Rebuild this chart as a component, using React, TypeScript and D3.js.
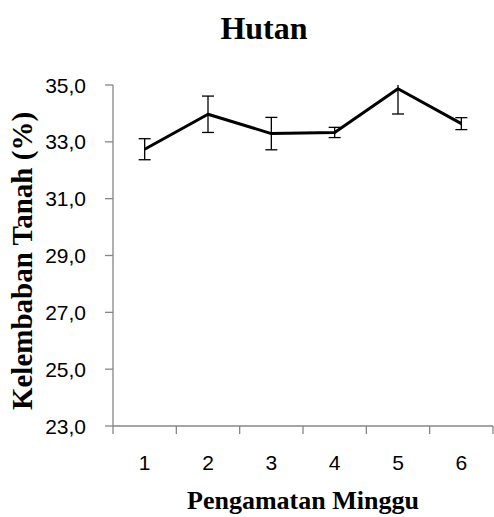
import React from "react";
import * as d3 from "d3";

const weeks = ["1", "2", "3", "4", "5", "6"];
const moisture = [32.74, 33.97, 33.29, 33.33, 34.87, 33.64];
const errors = [0.37, 0.64, 0.57, 0.18, 0.89, 0.21];
const yTicks = [23, 25, 27, 29, 31, 33, 35];

const W = 494;
const H = 517;
const left = 113;
const right = 493;
const top = 85;
const bottom = 426;

export default function App() {
  const x = d3.scaleBand<string>().domain(weeks).range([left, right]).padding(0);
  const y = d3.scaleLinear().domain([23, 35]).range([bottom, top]);
  const cx = (w: string) => (x(w) as number) + x.bandwidth() / 2;
  const line = d3
    .line<number>()
    .x((_, i) => cx(weeks[i]))
    .y((d) => y(d));
  const fmt = (v: number) => v.toFixed(1).replace(".", ",");
  const capW = 6;
  return (
    <svg
      width={W}
      height={H}
      style={{ position: "absolute", left: 0, top: 0, background: "#fff" }}
    >
      <defs>
        <clipPath id="plot">
          <rect x={left} y={top} width={right - left} height={bottom - top} />
        </clipPath>
      </defs>
      <text
        x={264}
        y={39}
        textAnchor="middle"
        fontFamily="Liberation Serif"
        fontWeight="bold"
        fontSize={32}
      >
        Hutan
      </text>
      {/* y axis */}
      <line x1={left} x2={left} y1={top} y2={bottom} stroke="#868686" strokeWidth={1.3} />
      {yTicks.map((t) => (
        <g key={t}>
          <line x1={left - 8} x2={left} y1={y(t)} y2={y(t)} stroke="#868686" strokeWidth={1.3} />
          <text
            x={86}
            y={y(t)}
            dy="0.36em"
            textAnchor="end"
            fontFamily="Liberation Sans"
            fontSize={21}
            fill="#000"
          >
            {fmt(t)}
          </text>
        </g>
      ))}
      {/* x axis */}
      <line x1={left} x2={right} y1={bottom} y2={bottom} stroke="#868686" strokeWidth={1.3} />
      {weeks.map((w) => (
        <line
          key={"t" + w}
          x1={x(w) as number}
          x2={x(w) as number}
          y1={bottom}
          y2={bottom + 8}
          stroke="#868686"
          strokeWidth={1.3}
        />
      ))}
      <line x1={right} x2={right} y1={bottom} y2={bottom + 8} stroke="#868686" strokeWidth={1.3} />
      {weeks.map((w) => (
        <text
          key={"l" + w}
          x={cx(w)}
          y={470}
          textAnchor="middle"
          fontFamily="Liberation Sans"
          fontSize={21}
        >
          {w}
        </text>
      ))}
      <text
        x={303}
        y={509}
        textAnchor="middle"
        fontFamily="Liberation Serif"
        fontWeight="bold"
        fontSize={26}
      >
        Pengamatan Minggu
      </text>
      <text
        transform={`translate(32, 261) rotate(-90)`}
        textAnchor="middle"
        fontFamily="Liberation Serif"
        fontWeight="bold"
        fontSize={29}
      >
        Kelembaban Tanah (%)
      </text>
      {/* error bars */}
      <g clipPath="url(#plot)">
        {moisture.map((v, i) => {
          const px = cx(weeks[i]);
          const y1 = y(v + errors[i]);
          const y2 = y(v - errors[i]);
          return (
            <g key={"e" + i} stroke="#000" strokeWidth={1.3}>
              <line x1={px} x2={px} y1={y1} y2={y2} />
              <line x1={px - capW} x2={px + capW} y1={y1} y2={y1} />
              <line x1={px - capW} x2={px + capW} y1={y2} y2={y2} />
            </g>
          );
        })}
      </g>
      <path
        d={line(moisture) as string}
        fill="none"
        stroke="#000"
        strokeWidth={3}
        strokeLinejoin="round"
      />
    </svg>
  );
}
